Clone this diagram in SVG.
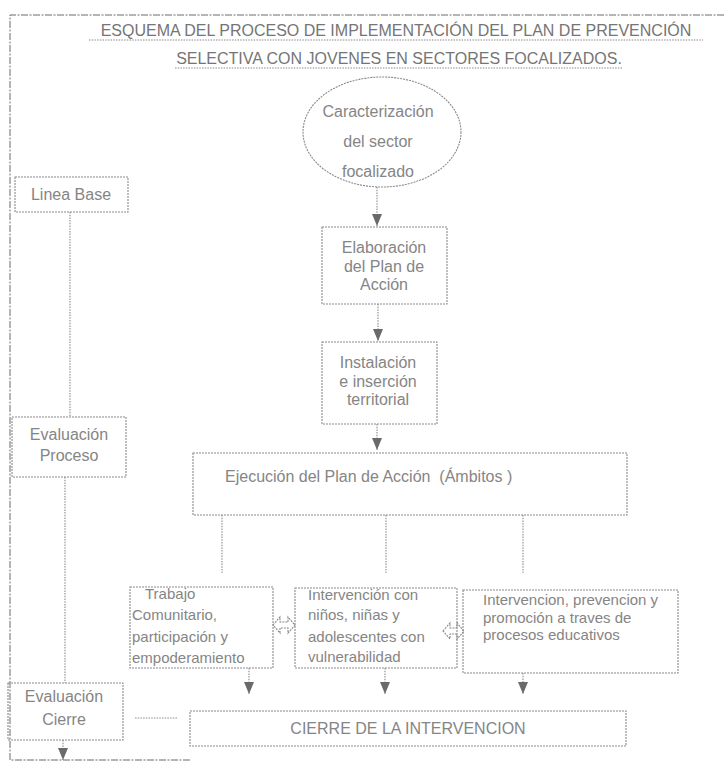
<svg xmlns="http://www.w3.org/2000/svg" width="725" height="763" viewBox="0 0 725 763">
<defs>
<marker id="ah" viewBox="0 0 12 10" refX="12" refY="5" markerWidth="12" markerHeight="10" markerUnits="userSpaceOnUse" orient="auto">
<path d="M0,0 L12,5 L0,10 Z" fill="#6a6a6a"/>
</marker>
<style>
.bx{fill:none;stroke:#8a8a8a;stroke-width:1.1;stroke-dasharray:2 1}
.ln{fill:none;stroke:#8a8a8a;stroke-width:1.1;stroke-dasharray:1.5 1.2}
.ar{fill:none;stroke:#8a8a8a;stroke-width:1.1;stroke-dasharray:1.5 1.2;marker-end:url(#ah)}
.fr{fill:none;stroke:#6a6a6a;stroke-width:1;stroke-dasharray:7 1.5 2 1.5}
.t{font-family:"Liberation Sans",Arial,sans-serif;font-size:16px;fill:#858585}
.ts{font-family:"Liberation Sans",Arial,sans-serif;font-size:15px;fill:#858585}
.tt{font-family:"Liberation Sans",Arial,sans-serif;font-size:16px;fill:#757575}
.c{text-anchor:middle}
</style>
</defs>
<rect width="725" height="763" fill="#ffffff"/>

<g id="frame">
<path class="fr" d="M190,760 L10,760 L10,15 L725,15"/>
</g>

<g id="title">
<text class="tt c" x="396" y="36">ESQUEMA DEL PROCESO DE IMPLEMENTACIÓN DEL PLAN DE PREVENCIÓN</text>
<line class="ln" x1="89" y1="40" x2="703" y2="40"/>
<text class="tt c" x="399" y="64">SELECTIVA CON JOVENES EN SECTORES FOCALIZADOS.</text>
<line class="ln" x1="175" y1="68" x2="623" y2="68"/>
</g>

<g id="connectors">
<line class="ar" x1="377" y1="187" x2="377" y2="226"/>
<line class="ar" x1="378" y1="304" x2="378" y2="341"/>
<line class="ar" x1="377" y1="424" x2="377" y2="450"/>
<line class="ln" x1="222" y1="515" x2="222" y2="573"/>
<line class="ln" x1="386" y1="515" x2="386" y2="573"/>
<line class="ln" x1="523" y1="515" x2="523" y2="573"/>
<line class="ar" x1="249" y1="668" x2="249" y2="694"/>
<line class="ar" x1="385" y1="668" x2="385" y2="694"/>
<line class="ar" x1="523" y1="673" x2="523" y2="694"/>
<line class="ln" x1="70" y1="212" x2="70" y2="417"/>
<line class="ln" x1="65" y1="477" x2="65" y2="683"/>
<line class="ln" x1="135" y1="718" x2="178" y2="718"/>
<line class="ar" x1="63" y1="740" x2="63" y2="760"/>
<path class="bx" d="M273,625 L280,617 L280,622 L288,622 L288,617 L295,625 L288,633 L288,628 L280,628 L280,633 Z"/>
<path class="bx" d="M443,631 L450,623 L450,628 L457,628 L457,623 L464,631 L457,639 L457,634 L450,634 L450,639 Z"/>
</g>

<g id="caracterizacion">
<ellipse class="bx" cx="382" cy="132" rx="79" ry="55"/>
<text class="t c" x="378" y="117">Caracterización</text>
<text class="t c" x="378" y="147">del sector</text>
<text class="t c" x="378" y="177">focalizado</text>
</g>

<g id="elaboracion">
<rect class="bx" x="322" y="227" width="125" height="77"/>
<text class="t c" x="384" y="253">Elaboración</text>
<text class="t c" x="384" y="272">del Plan de</text>
<text class="t c" x="384" y="290">Acción</text>
</g>

<g id="instalacion">
<rect class="bx" x="322" y="342" width="115" height="82"/>
<text class="t c" x="378" y="368">Instalación</text>
<text class="t c" x="378" y="387">e inserción</text>
<text class="t c" x="378" y="405">territorial</text>
</g>

<g id="ejecucion">
<rect class="bx" x="193" y="453" width="434" height="62"/>
<text class="t" x="225" y="482" xml:space="preserve">Ejecución del Plan de Acción  (Ámbitos )</text>
</g>

<g id="trabajo">
<rect class="bx" x="130" y="587" width="143" height="81"/>
<text class="ts" x="145" y="599">Trabajo</text>
<text class="ts" x="132" y="620">Comunitario,</text>
<text class="ts" x="132" y="642">participación y</text>
<text class="ts" x="132" y="663">empoderamiento</text>
</g>

<g id="intervencion-ninos">
<rect class="bx" x="295" y="588" width="162" height="80"/>
<text class="ts" x="308" y="600">Intervención con</text>
<text class="ts" x="308" y="620">niños, niñas y</text>
<text class="ts" x="308" y="642">adolescentes con</text>
<text class="ts" x="308" y="662">vulnerabilidad</text>
</g>

<g id="intervencion-educativa">
<rect class="bx" x="463" y="590" width="215" height="83"/>
<text class="ts" x="483" y="605">Intervencion, prevencion y</text>
<text class="ts" x="483" y="623">promoción a traves de</text>
<text class="ts" x="483" y="640">procesos educativos</text>
</g>

<g id="cierre">
<rect class="bx" x="190" y="711" width="436" height="35"/>
<text class="t c" x="408" y="734">CIERRE DE LA INTERVENCION</text>
</g>

<g id="linea-base">
<rect class="bx" x="15" y="177" width="113" height="35"/>
<text class="t c" x="71" y="200">Linea Base</text>
</g>

<g id="evaluacion-proceso">
<rect class="bx" x="12" y="417" width="114" height="60"/>
<text class="t c" x="69" y="440">Evaluación</text>
<text class="t c" x="69" y="461">Proceso</text>
</g>

<g id="evaluacion-cierre">
<rect class="bx" x="8" y="683" width="115" height="57"/>
<text class="t c" x="64" y="702">Evaluación</text>
<text class="t c" x="64" y="725">Cierre</text>
</g>
</svg>
